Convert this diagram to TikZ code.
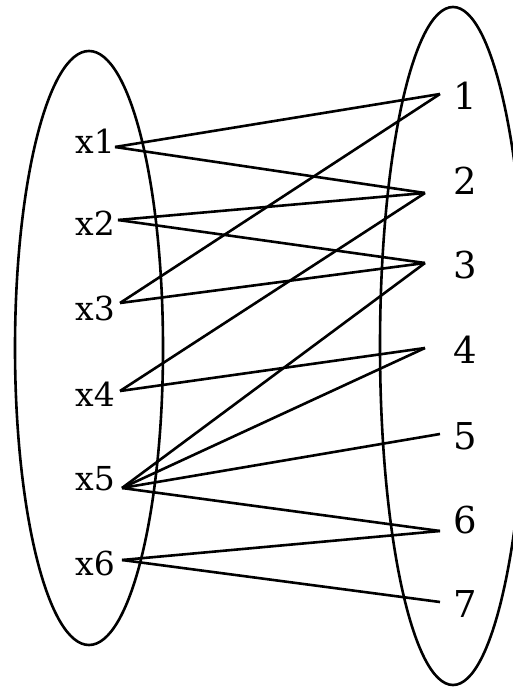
\documentclass[tikz,border=0pt]{standalone}
\usepackage{fontspec}
\setmainfont{DejaVu Serif}
\begin{document}
\begin{tikzpicture}[x=1pt,y=-1pt,
  set/.style={line width=2.6pt},
  edge/.style={line width=2.6pt,line join=miter},
  llab/.style={font=\fontsize{33}{33}\selectfont,inner sep=0pt},
  rlab/.style={font=\fontsize{37}{37}\selectfont,inner sep=0pt}]
\useasboundingbox (0,0) rectangle (513,687);
\clip (0,0) rectangle (513,687);
\draw[set] (89,348) ellipse [x radius=74, y radius=297];
\draw[set] (453,346) ellipse [x radius=73, y radius=339];
% left labels
\node[llab] (x1) at (95,141) {x1};
\node[llab] (x2) at (95,223) {x2};
\node[llab] (x3) at (95,308) {x3};
\node[llab] (x4) at (95,394) {x4};
\node[llab] (x5) at (95,479) {x5};
\node[llab] (x6) at (95,563) {x6};
% right labels
\node[rlab] (n1) at (465,96) {1};
\node[rlab] (n2) at (465,181) {2};
\node[rlab] (n3) at (465,265) {3};
\node[rlab] (n4) at (465,350) {4};
\node[rlab] (n5) at (465,436) {5};
\node[rlab] (n6) at (465,520) {6};
\node[rlab] (n7) at (465,604) {7};
% endpoints
\coordinate (a1) at (115,147);
\coordinate (a2) at (118,220);
\coordinate (a3) at (120,303);
\coordinate (a4) at (120,391);
\coordinate (a5) at (122,488);
\coordinate (a6) at (122,560);
\coordinate (b1) at (440,94);
\coordinate (b2) at (425,193);
\coordinate (b3) at (425,263);
\coordinate (b4) at (425,348);
\coordinate (b5) at (440,434);
\coordinate (b6) at (440,531);
\coordinate (b7) at (440,602);
\draw[edge] (a1) -- (b1);
\draw[edge] (a1) -- (b2);
\draw[edge] (a2) -- (b2);
\draw[edge] (a2) -- (b3);
\draw[edge] (a3) -- (b1);
\draw[edge] (a3) -- (b3);
\draw[edge] (a4) -- (b2);
\draw[edge] (a4) -- (b4);
\draw[edge] (a5) -- (b3);
\draw[edge] (a5) -- (b4);
\draw[edge] (a5) -- (b5);
\draw[edge] (a5) -- (b6);
\draw[edge] (a6) -- (b6);
\draw[edge] (a6) -- (b7);
\end{tikzpicture}
\end{document}
